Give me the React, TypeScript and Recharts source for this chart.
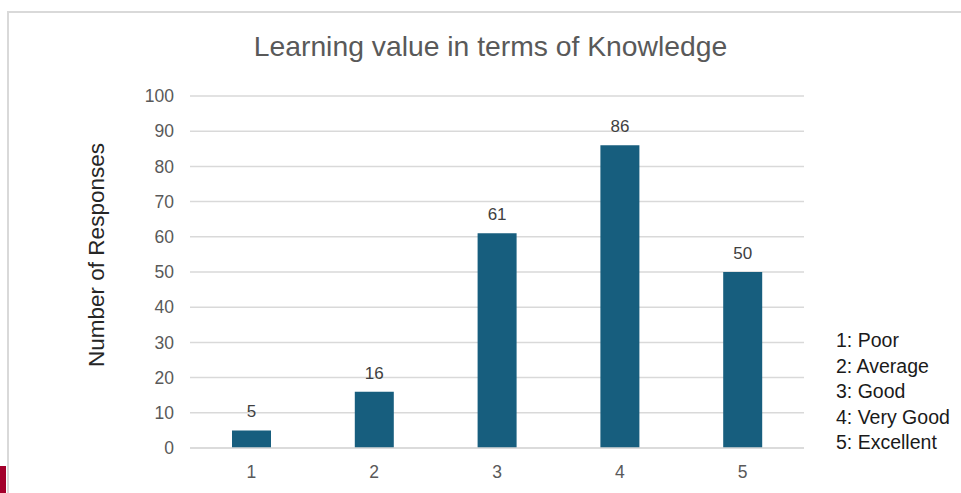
import React from "react";
import { BarChart, Bar, XAxis, YAxis, CartesianGrid, LabelList } from "recharts";

const ratings = ["1", "2", "3", "4", "5"];
const responses = [5, 16, 61, 86, 50];
const yTicks = [0, 10, 20, 30, 40, 50, 60, 70, 80, 90, 100];
const legendLines = ["1: Poor", "2: Average", "3: Good", "4: Very Good", "5: Excellent"];

const data = ratings.map((r, i) => ({ rating: r, count: responses[i] }));

const FONT = '"Liberation Sans", Arial, sans-serif';

export default function App() {
  return (
    <div style={{ position: "absolute", left: 0, top: 0, width: 961, height: 493, background: "#fff", overflow: "hidden", fontFamily: FONT }}>
      {/* frame */}
      <div style={{ position: "absolute", left: 7, top: 11, width: 960, height: 490, borderLeft: "2px solid #d9d9d9", borderTop: "2px solid #d9d9d9" }} />
      <div style={{ position: "absolute", left: 0, top: 466, width: 6, height: 27, background: "#a3002b" }} />

      <div style={{ position: "absolute", left: 0, top: 30, width: 981, textAlign: "center", fontSize: 28.3, color: "#595959" }}>
        Learning value in terms of Knowledge
      </div>

      <div style={{ position: "absolute", left: 0, top: 0 }}>
        <BarChart
          width={961}
          height={493}
          data={data}
          margin={{ top: 96, right: 157, bottom: 15, left: 130 }}
          barCategoryGap={42}
        >
          <CartesianGrid vertical={false} stroke="#d9d9d9" strokeWidth={1.5} />
          <XAxis
            dataKey="rating"
            axisLine={{ stroke: "#d9d9d9", strokeWidth: 1.5 }}
            tickLine={false}
            tickMargin={12}
            tick={{ fill: "#595959", fontSize: 17.5, fontFamily: FONT }}
          />
          <YAxis
            width={60}
            domain={[0, 100]}
            ticks={yTicks}
            axisLine={false}
            tickLine={false}
            tickMargin={10}
            tick={{ fill: "#595959", fontSize: 17.5, fontFamily: FONT }}
            label={{
              content: () => (
                <text
                  x={96}
                  y={255}
                  transform="rotate(-90, 96, 255)"
                  textAnchor="middle"
                  dominantBaseline="central"
                  fill="#262626"
                  fontSize={22.5}
                  fontFamily={FONT}
                >
                  Number of Responses
                </text>
              ),
            }}
          />
          <Bar dataKey="count" fill="#175e7e" isAnimationActive={false}>
            <LabelList dataKey="count" position="top" offset={13} fill="#404040" fontSize={17} fontFamily={FONT} />
          </Bar>
        </BarChart>
      </div>

      <div style={{ position: "absolute", left: 836, top: 328, fontSize: 19.5, lineHeight: "25.5px", color: "#1a1a1a" }}>
        {legendLines.map((l) => (
          <div key={l}>{l}</div>
        ))}
      </div>
    </div>
  );
}
